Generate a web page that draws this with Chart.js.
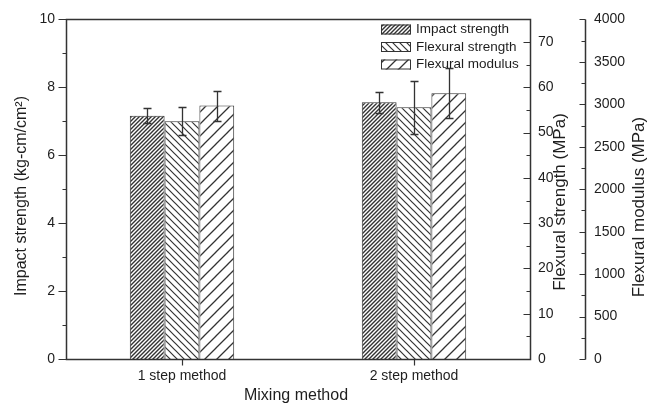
<!DOCTYPE html>
<html>
<head>
<meta charset="utf-8">
<script src="https://cdn.jsdelivr.net/npm/chart.js@4.4.1/dist/chart.umd.min.js"></script>
<style>
  html, body { margin: 0; padding: 0; background: #fff; }
  #marco { width: 661px; height: 407px; }
</style>
</head>
<body>
<div id="marco"><canvas id="grafico"></canvas></div>
<script>
// Categorias del eje x
var metodos = ['1 step method', '2 step method'];

// Series: valor medio y desviacion de cada propiedad
var impacto = [7.16, 7.56];
var impactoErr = [0.22, 0.31];
var resistencia = [52.5, 55.6];
var resistenciaErr = [3.1, 5.8];
var modulo = [2985, 3130];
var moduloErr = [177, 295];

// Marcas principales de cada eje y
var ticksImpacto = [0, 2, 4, 6, 8, 10];
var ticksResistencia = [0, 10, 20, 30, 40, 50, 60, 70];
var ticksModulo = [0, 500, 1000, 1500, 2000, 2500, 3000, 3500, 4000];

var fuente = 'Liberation Sans, Arial, Helvetica, sans-serif';
var tinta = '#1e1e1e';
var linea = '#333';

var ctx = document.getElementById('grafico').getContext('2d');

// Rayado diagonal para el relleno de las barras
function rayado(periodo, grosor, sentido) {
    var c = document.createElement('canvas');
    c.width = periodo;
    c.height = periodo;
    var g = c.getContext('2d');
    g.fillStyle = '#fff';
    g.fillRect(0, 0, periodo, periodo);
    g.strokeStyle = '#333';
    g.lineWidth = grosor;
    g.beginPath();
    if (sentido === '/') {
        g.moveTo(-1, periodo + 1); g.lineTo(periodo + 1, -1);
        g.moveTo(-1, 1); g.lineTo(1, -1);
        g.moveTo(periodo - 1, periodo + 1); g.lineTo(periodo + 1, periodo - 1);
    } else {
        g.moveTo(-1, -1); g.lineTo(periodo + 1, periodo + 1);
        g.moveTo(periodo - 1, -1); g.lineTo(periodo + 1, 1);
        g.moveTo(-1, periodo - 1); g.lineTo(1, periodo + 1);
    }
    g.stroke();
    return ctx.createPattern(c, 'repeat');
}

function marcasFijas(lista) {
    return function (scale) {
        scale.ticks = lista.map(function (v) { return { value: v }; });
    };
}

// Numeros sin separador de miles
function numeroPlano(v) {
    return String(v);
}

// Dibuja marcas mayores y menores sobre una linea vertical
function marcas(g, scale, x, lista, largo, largoMenor, dir) {
    g.beginPath();
    for (var i = 0; i < lista.length; i++) {
        var y = Math.round(scale.getPixelForValue(lista[i])) + 0.5;
        g.moveTo(x, y); g.lineTo(x + dir * largo, y);
        if (i < lista.length - 1) {
            var ym = Math.round(scale.getPixelForValue((lista[i] + lista[i + 1]) / 2)) + 0.5;
            g.moveTo(x, ym); g.lineTo(x + dir * largoMenor, ym);
        }
    }
    g.stroke();
}

function tituloVertical(g, texto, x, y, tam) {
    g.save();
    g.translate(x, y);
    g.rotate(-Math.PI / 2);
    g.font = tam + 'px ' + fuente;
    g.fillStyle = tinta;
    g.textAlign = 'center';
    g.textBaseline = 'middle';
    g.fillText(texto, 0, 0);
    g.restore();
}

// Ejes, marcas, titulos, leyenda y barras de error
var adornos = {
    id: 'adornos',
    afterDatasetsDraw: function (chart) {
        var g = chart.ctx;
        var a = chart.chartArea;
        var sy = chart.scales.y, sy1 = chart.scales.y1, sy2 = chart.scales.y2, sx = chart.scales.x;
        var izq = Math.round(a.left) + 0.5, der = Math.round(a.right) + 0.5;
        var arr = Math.round(a.top) + 0.5, aba = Math.round(a.bottom) + 0.5;
        var x2 = Math.round(sy2.left) + 0.5;

        g.save();
        g.strokeStyle = linea;
        g.lineWidth = 1.5;
        g.strokeRect(izq, arr, der - izq, aba - arr);
        g.beginPath();
        g.moveTo(x2, arr); g.lineTo(x2, aba);
        g.stroke();

        g.lineWidth = 1.2;
        marcas(g, sy, izq, ticksImpacto, 8, 4, -1);
        marcas(g, sy1, der, ticksResistencia, 7, 4, -1);
        marcas(g, sy2, x2, ticksModulo, 6, 4, -1);
        g.beginPath();
        for (var k = 0; k < metodos.length; k++) {
            var xt = Math.round(sx.getPixelForValue(k)) + 0.5;
            g.moveTo(xt, aba); g.lineTo(xt, aba + 6);
        }
        g.stroke();

        // titulos de los ejes
        tituloVertical(g, 'Impact strength (kg-cm/cm\u00B2)', 22, 196, 16);
        tituloVertical(g, 'Flexural strength (MPa)', 560, 202, 17);
        tituloVertical(g, 'Flexural modulus (MPa)', 639, 207, 17);
        g.font = '16px ' + fuente;
        g.fillStyle = tinta;
        g.textAlign = 'center';
        g.textBaseline = 'middle';
        g.fillText('Mixing method', 296, 396);

        // leyenda
        var filas = [29.5, 47, 64.5];
        g.font = '13.5px ' + fuente;
        g.textAlign = 'left';
        chart.data.datasets.forEach(function (ds, i) {
            g.fillStyle = ds.backgroundColor;
            g.fillRect(381, filas[i] - 5, 30, 10);
            g.lineWidth = 1;
            g.strokeStyle = linea;
            g.strokeRect(381.5, filas[i] - 4.5, 29, 9);
            g.fillStyle = tinta;
            g.fillText(ds.label, 416, filas[i]);
        });

        // barras de error
        g.strokeStyle = linea;
        g.lineWidth = 1.3;
        chart.data.datasets.forEach(function (ds, i) {
            var meta = chart.getDatasetMeta(i);
            var esc = chart.scales[ds.yAxisID];
            meta.data.forEach(function (bar, j) {
                var x = Math.round(bar.x) + 0.5;
                var y1 = Math.round(esc.getPixelForValue(ds.data[j] + ds.errores[j])) + 0.5;
                var y0 = Math.round(esc.getPixelForValue(ds.data[j] - ds.errores[j])) + 0.5;
                g.beginPath();
                g.moveTo(x, y1); g.lineTo(x, y0);
                g.moveTo(x - 4, y1); g.lineTo(x + 4, y1);
                g.moveTo(x - 4, y0); g.lineTo(x + 4, y0);
                g.stroke();
            });
        });
        g.restore();
    }
};

var sinRejilla = { display: false, drawTicks: false };
var fuenteTicks = { family: fuente, size: 14 };

var grafico = new Chart(ctx, {
    type: 'bar',
    data: {
        labels: metodos,
        datasets: [
            {
                label: 'Impact strength',
                data: impacto,
                errores: impactoErr,
                yAxisID: 'y',
                backgroundColor: rayado(4, 1.4, '/'),
                borderColor: linea,
                borderWidth: 1
            },
            {
                label: 'Flexural strength',
                data: resistencia,
                errores: resistenciaErr,
                yAxisID: 'y1',
                backgroundColor: rayado(7, 1.2, '\\'),
                borderColor: linea,
                borderWidth: 1
            },
            {
                label: 'Flexural modulus',
                data: modulo,
                errores: moduloErr,
                yAxisID: 'y2',
                backgroundColor: rayado(12, 1.3, '/'),
                borderColor: linea,
                borderWidth: 1
            }
        ]
    },
    options: {
        responsive: true,
        maintainAspectRatio: false,
        animation: false,
        layout: { padding: { top: 19, left: 0, right: 0, bottom: 0 } },
        datasets: { bar: { barPercentage: 1, categoryPercentage: 0.45 } },
        plugins: { legend: { display: false }, tooltip: { enabled: false } },
        scales: {
            x: {
                offset: true,
                grid: sinRejilla,
                border: { display: false },
                ticks: { font: fuenteTicks, color: tinta, padding: 9, maxRotation: 0 },
                afterFit: function (s) { s.height = 48; }
            },
            y: {
                position: 'left',
                min: 0, max: 10,
                grid: sinRejilla,
                border: { display: false },
                ticks: { font: fuenteTicks, color: tinta, padding: 11, callback: numeroPlano },
                afterBuildTicks: marcasFijas(ticksImpacto),
                afterFit: function (s) { s.width = 66; }
            },
            y1: {
                position: 'right',
                weight: 0,
                min: 0, max: 75,
                grid: sinRejilla,
                border: { display: false },
                ticks: { font: fuenteTicks, color: tinta, padding: 8, callback: numeroPlano },
                afterBuildTicks: marcasFijas(ticksResistencia),
                afterFit: function (s) { s.width = 55; }
            },
            y2: {
                position: 'right',
                weight: 1,
                min: 0, max: 4000,
                grid: sinRejilla,
                border: { display: false },
                ticks: { font: fuenteTicks, color: tinta, padding: 9, callback: numeroPlano },
                afterBuildTicks: marcasFijas(ticksModulo),
                afterFit: function (s) { s.width = 76; }
            }
        }
    },
    plugins: [adornos]
});
</script>
</body>
</html>
